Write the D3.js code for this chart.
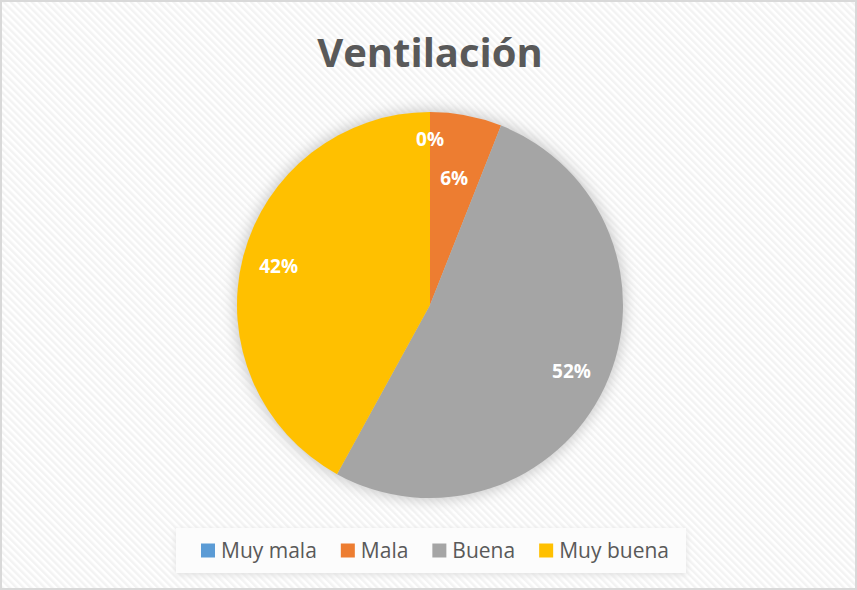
<!DOCTYPE html>
<html>
<head>
<meta charset="utf-8">
<script src="https://cdnjs.cloudflare.com/ajax/libs/d3/7.8.5/d3.min.js"></script>
<style>
  body { margin: 0; background: #fff; }
  svg { display: block; }
</style>
</head>
<body>
<div id="chart"></div>
<script>
// données du graphique
var categories = ["Muy mala", "Mala", "Buena", "Muy buena"];
var values = [0, 6, 52, 42]; // pourcentages
var colors = ["#5B9BD5", "#ED7D31", "#A5A5A5", "#FFC000"];
var title = "Ventilación";

var width = 857, height = 590;
var cx = 430, cy = 305, radius = 193;

var svg = d3.select("#chart").append("svg")
  .attr("width", width)
  .attr("height", height);

var defs = svg.append("defs");

// motif de hachures diagonales du fond
var pat = defs.append("pattern")
  .attr("id", "hatch")
  .attr("patternUnits", "userSpaceOnUse")
  .attr("width", 5)
  .attr("height", 5)
  .attr("patternTransform", "rotate(-45)");
pat.append("rect").attr("width", 5).attr("height", 5).attr("fill", "#ffffff");
pat.append("rect").attr("width", 2.5).attr("height", 5).attr("fill", "#f3f3f3");

// ombre autour du camembert
var f = defs.append("filter").attr("id", "glow")
  .attr("x", "-20%").attr("y", "-20%").attr("width", "140%").attr("height", "140%");
f.append("feGaussianBlur").attr("stdDeviation", 7);

var legShadow = defs.append("filter").attr("id", "legShadow")
  .attr("x", "-10%").attr("y", "-50%").attr("width", "120%").attr("height", "200%");
legShadow.append("feGaussianBlur").attr("stdDeviation", 3);

// fond + bordure
svg.append("rect")
  .attr("x", 1).attr("y", 1)
  .attr("width", width - 2).attr("height", height - 2)
  .attr("fill", "url(#hatch)")
  .attr("stroke", "#d9d9d9")
  .attr("stroke-width", 2);

// titre
svg.append("text")
  .attr("x", cx)
  .attr("y", 67)
  .attr("text-anchor", "middle")
  .style("font-family", "'Open Sans', 'Liberation Sans', sans-serif")
  .style("font-weight", "bold")
  .style("font-size", "40px")
  .attr("fill", "#595959")
  .text(title);

var g = svg.append("g").attr("transform", "translate(" + cx + "," + cy + ")");

g.append("circle")
  .attr("r", radius + 2)
  .attr("fill", "#c8c8c8")
  .attr("filter", "url(#glow)");

var pie = d3.pie().sort(null).value(function(d) { return d; });
var arcs = pie(values);
var arc = d3.arc().innerRadius(0).outerRadius(radius);

g.selectAll("path.slice")
  .data(arcs)
  .enter()
  .append("path")
  .attr("class", "slice")
  .attr("d", arc)
  .attr("fill", function(d, i) { return colors[i]; });

// étiquettes de pourcentage
function labelRadius(d) {
  var share = d.value / d3.sum(values);
  if (share === 0) return radius * 0.86;
  if (share < 0.1) return radius * 0.67;
  return radius * 0.81;
}
g.selectAll("text.lbl")
  .data(arcs)
  .enter()
  .append("text")
  .attr("class", "lbl")
  .attr("transform", function(d) {
    var r = labelRadius(d);
    var c = d3.arc().innerRadius(r).outerRadius(r).centroid(d);
    return "translate(" + c[0] + "," + c[1] + ")";
  })
  .attr("text-anchor", "middle")
  .attr("dy", "0.35em")
  .style("font-family", "'Open Sans', 'Liberation Sans', sans-serif")
  .style("font-weight", "bold")
  .style("font-size", "19px")
  .attr("fill", "#ffffff")
  .text(function(d) { return d.value + "%"; });

// légende
var legX = 176, legY = 528, legW = 510, legH = 45;
svg.append("rect")
  .attr("x", legX).attr("y", legY + 2)
  .attr("width", legW).attr("height", legH)
  .attr("fill", "#e0e0e0")
  .attr("filter", "url(#legShadow)");
svg.append("rect")
  .attr("x", legX).attr("y", legY)
  .attr("width", legW).attr("height", legH)
  .attr("fill", "#fcfcfc");

var legend = svg.append("g").attr("transform", "translate(0," + (legY + legH / 2) + ")");
var xPos = 201;
categories.forEach(function(c, i) {
  var item = legend.append("g").attr("transform", "translate(" + xPos + ",0)");
  item.append("rect")
    .attr("x", 0).attr("y", -7)
    .attr("width", 14).attr("height", 14)
    .attr("fill", colors[i]);
  var t = item.append("text")
    .attr("x", 20)
    .attr("dy", "0.35em")
    .style("font-family", "'Open Sans', 'Liberation Sans', sans-serif")
    .style("font-size", "21px")
    .attr("fill", "#595959")
    .text(c);
  xPos += 20 + t.node().getComputedTextLength() + 24;
});
</script>
</body>
</html>
